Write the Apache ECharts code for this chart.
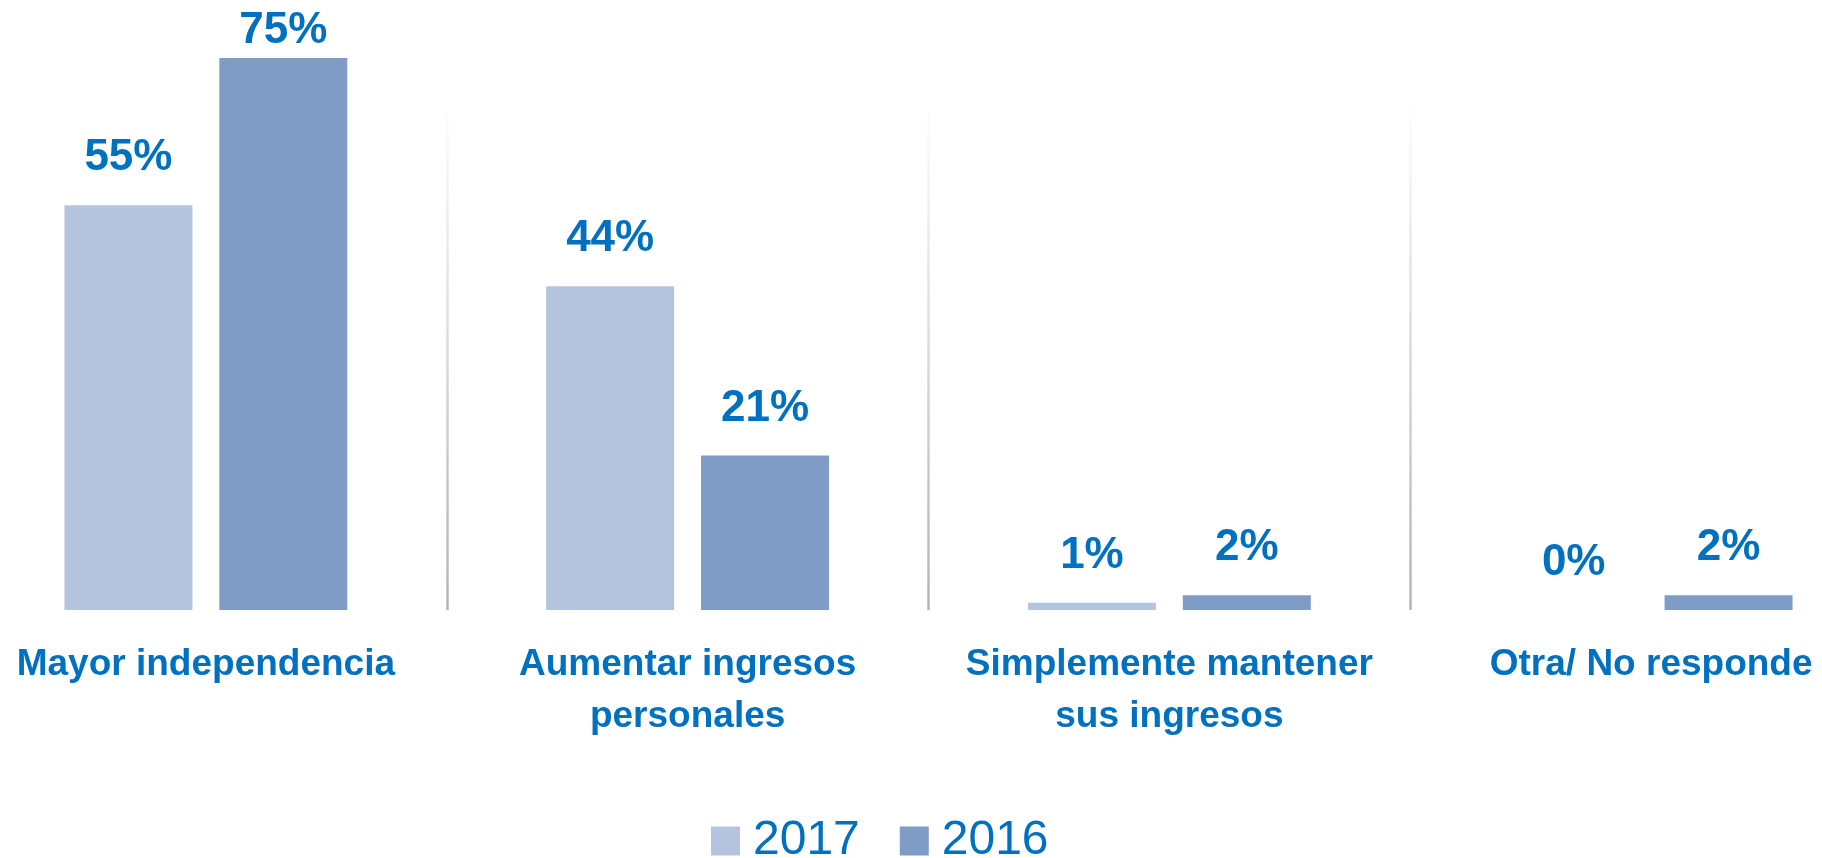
<!DOCTYPE html>
<html>
<head>
<meta charset="utf-8">
<script src="https://cdn.jsdelivr.net/npm/echarts@6/dist/echarts.min.js"></script>
<style>
  html, body { margin: 0; padding: 0; background: #ffffff; }
  #chart { width: 1822px; height: 858px; }
</style>
</head>
<body>
<div id="chart"></div>
<script>
// Motivations, share of respondents (%)
const categories = [
  'Mayor independencia',
  'Aumentar ingresos\npersonales',
  'Simplemente mantener\nsus ingresos',
  'Otra/ No responde'
];
const seriesNames = ['2017', '2016'];
const values2017 = [55, 44, 1, 0];
const values2016 = [75, 21, 2, 2];

const TEXT_BLUE = '#0070C0';
const COLOR_2017 = '#B4C4DE';
const COLOR_2016 = '#7F9CC7';
const FONT = '"Liberation Sans", Arial, sans-serif';

const chart = echarts.init(document.getElementById('chart'), null, { renderer: 'canvas' });

const valueLabel = {
  show: true,
  position: 'top',
  distance: 25,
  formatter: p => p.value + '%',
  color: TEXT_BLUE,
  fontFamily: FONT,
  fontWeight: 'bold',
  fontSize: 44
};

// keep value labels inside the top of the canvas
const clampTop = params => {
  const r = params.labelRect;
  const minTop = 9;
  if (r.y < minTop) return { dy: minTop - r.y };
  return {};
};

chart.setOption({
  animation: false,
  backgroundColor: '#ffffff',
  // the plot runs a little past both canvas edges, so only the inner separators show
  grid: {
    left: -35, width: 1927, top: 58, bottom: 248,
    containLabel: false,
    outerBoundsMode: 'none'
  },
  legend: {
    data: seriesNames,
    left: 706,
    top: 812,
    icon: 'rect',
    itemWidth: 29,
    itemHeight: 29,
    itemGap: 40,
    textStyle: { color: TEXT_BLUE, fontFamily: FONT, fontSize: 48, padding: [0, 0, 0, 8] }
  },
  xAxis: {
    type: 'category',
    data: categories,
    axisLine: { show: false },
    axisTick: { show: false },
    axisLabel: {
      margin: 29,
      color: TEXT_BLUE,
      fontFamily: FONT,
      fontWeight: 'bold',
      fontSize: 37,
      lineHeight: 52,
      interval: 0
    },
    splitLine: {
      show: true,
      lineStyle: {
        width: 2.5,
        color: new echarts.graphic.LinearGradient(0, 0, 0, 1, [
          { offset: 0, color: 'rgba(180,180,180,0)' },
          { offset: 0.07, color: 'rgba(180,180,180,0)' },
          { offset: 1, color: 'rgba(180,180,180,1)' }
        ])
      }
    }
  },
  yAxis: {
    type: 'value',
    min: 0,
    max: 75,
    show: false,
    splitLine: { show: false }
  },
  series: [
    {
      name: seriesNames[0],
      type: 'bar',
      data: values2017,
      barWidth: 128,
      barGap: '21%',
      itemStyle: { color: COLOR_2017 },
      label: valueLabel,
      labelLayout: clampTop
    },
    {
      name: seriesNames[1],
      type: 'bar',
      data: values2016,
      barWidth: 128,
      barGap: '21%',
      itemStyle: { color: COLOR_2016 },
      label: valueLabel,
      labelLayout: clampTop
    }
  ]
});
</script>
</body>
</html>
